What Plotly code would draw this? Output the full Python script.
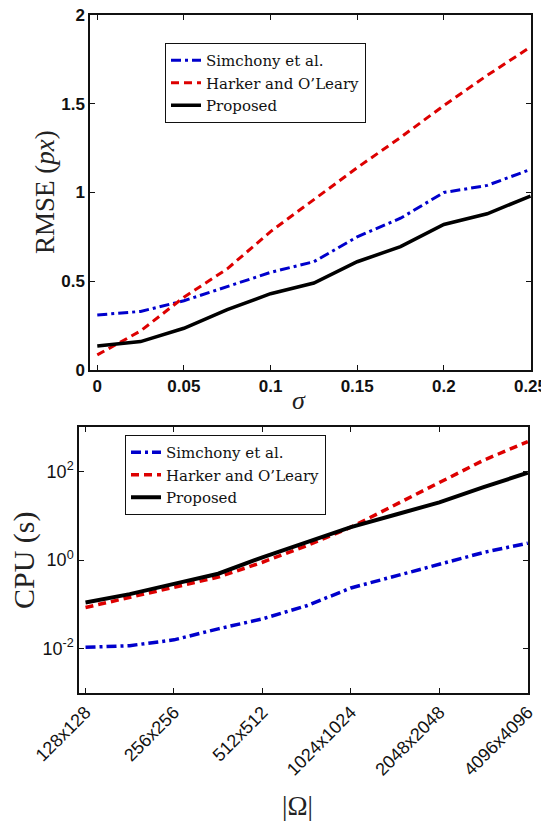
import plotly.graph_objects as go

# ---- Top panel data: RMSE vs sigma ----
sigma = [0, 0.025, 0.05, 0.075, 0.1, 0.125, 0.15, 0.175, 0.2, 0.225, 0.25]
rmse_simchony = [0.31, 0.33, 0.39, 0.47, 0.55, 0.61, 0.75, 0.855, 1.0, 1.04, 1.13]
rmse_harker = [0.085, 0.22, 0.41, 0.57, 0.78, 0.96, 1.14, 1.31, 1.49, 1.66, 1.82]
rmse_proposed = [0.135, 0.16, 0.235, 0.34, 0.43, 0.49, 0.61, 0.695, 0.82, 0.88, 0.98]

# ---- Bottom panel data: CPU time vs domain size ----
sizes = [128, 181, 256, 362, 512, 724, 1024, 1448, 2048, 2896, 4096]
cpu_simchony = [0.0107, 0.0117, 0.0158, 0.028, 0.047, 0.093, 0.234, 0.43, 0.81, 1.48, 2.4]
cpu_harker = [0.085, 0.145, 0.245, 0.41, 0.89, 2.1, 5.5, 17.8, 56, 178, 468]
cpu_proposed = [0.11, 0.17, 0.29, 0.49, 1.15, 2.5, 5.5, 10.5, 20, 44, 93]
size_ticks = [128, 256, 512, 1024, 2048, 4096]
size_labels = ["128x128", "256x256", "512x512", "1024x1024", "2048x2048", "4096x4096"]
cpu_ticks = [0.01, 1, 100]
cpu_labels = ["10<sup>-2</sup>", "10<sup>0</sup>", "10<sup>2</sup>"]

names = ["Simchony et al.", "Harker and O\u2019Leary", "Proposed"]
colors = ["#0000cc", "#dd0000", "#000000"]
dashes = ["10px,4px,3px,4px", "8px,5px", "solid"]
widths = [3, 3, 3.5]

W, H = 541, 821
SERIF = "Liberation Serif, Times New Roman, serif"
LEGSERIF = "DejaVu Serif, serif"
SANS = "Liberation Sans, Arial, sans-serif"

fig = go.Figure()

for nm, ys, c, d, w in zip(names, [rmse_simchony, rmse_harker, rmse_proposed], colors, dashes, widths):
    fig.add_trace(go.Scatter(x=sigma, y=ys, mode="lines", name=nm,
                             line=dict(color=c, dash=d, width=w),
                             xaxis="x", yaxis="y", legend="legend"))

for nm, ys, c, d, w in zip(names, [cpu_simchony, cpu_harker, cpu_proposed], colors, dashes, widths):
    fig.add_trace(go.Scatter(x=sizes, y=ys, mode="lines", name=nm,
                             line=dict(color=c, dash=d, width=w + 0.5),
                             xaxis="x2", yaxis="y2", legend="legend2"))

def px_x(p):
    return p / W

def px_y(p):
    return 1 - p / H

axis_common = dict(showline=True, linecolor="#111", linewidth=1.5, mirror="ticks",
                   ticks="inside", ticklen=5, tickcolor="#111", showgrid=False, zeroline=False,
                   automargin=False, ticklabeloverflow="allow")

fig.update_layout(
    width=W, height=H,
    margin=dict(l=0, r=0, t=0, b=0, pad=0),
    paper_bgcolor="white", plot_bgcolor="white",
    showlegend=True,
    xaxis=dict(domain=[px_x(90), px_x(531)], range=[-0.0042, 0.2503],
               tickvals=[0, 0.05, 0.1, 0.15, 0.2, 0.25],
               ticktext=["0", "0.05", "0.1", "0.15", "0.2", "0.25"],
               tickfont=dict(family=SANS, size=17, color="#111", weight="bold"),
               anchor="y", **axis_common),
    yaxis=dict(domain=[px_y(370), px_y(15)], range=[0, 2],
               tickvals=[0, 0.5, 1, 1.5, 2], ticktext=["0", "0.5", "1", "1.5", "2"],
               tickfont=dict(family=SANS, size=17, color="#111", weight="bold"),
               anchor="x", **axis_common),
    xaxis2=dict(domain=[px_x(79), px_x(528)], type="log",
                range=[2.085, 3.613], tickvals=size_ticks, ticktext=size_labels,
                tickfont=dict(family=SANS, size=18, color="#111"),
                tickangle=-45, anchor="y2", **axis_common),
    yaxis2=dict(domain=[px_y(693), px_y(427)], type="log", range=[-3, 3],
                tickvals=cpu_ticks, ticktext=cpu_labels,
                tickfont=dict(family=SANS, size=18, color="#111"),
                anchor="x2", **axis_common),
    legend=dict(x=px_x(165), y=px_y(43), xanchor="left", yanchor="top",
                bgcolor="white", bordercolor="#111", borderwidth=1,
                font=dict(family=LEGSERIF, size=15, color="#111"),
                itemwidth=30, tracegroupgap=0),
    legend2=dict(x=px_x(125), y=px_y(435), xanchor="left", yanchor="top",
                 bgcolor="white", bordercolor="#111", borderwidth=1,
                 font=dict(family=LEGSERIF, size=15, color="#111"),
                 itemwidth=30, tracegroupgap=0),
)

annots = [
    dict(text="RMSE (<i>px</i>)", x=px_x(45), y=px_y(192), textangle=-90,
         font=dict(family=SERIF, size=27, color="#222")),
    dict(text="<i>\u03c3</i>", x=px_x(299), y=px_y(401),
         font=dict(family=SERIF, size=26, color="#222")),
    dict(text="CPU (s)", x=px_x(24), y=px_y(560), textangle=-90,
         font=dict(family=SERIF, size=30, color="#222")),
    dict(text="|\u03a9|", x=px_x(297), y=px_y(806),
         font=dict(family=SERIF, size=27, color="#222")),
]
for a in annots:
    fig.add_annotation(xref="paper", yref="paper", showarrow=False,
                       xanchor="center", yanchor="middle", **a)

fig.write_html("out.html", config={"displayModeBar": False},
               post_script="document.body.style.margin='0px';")
